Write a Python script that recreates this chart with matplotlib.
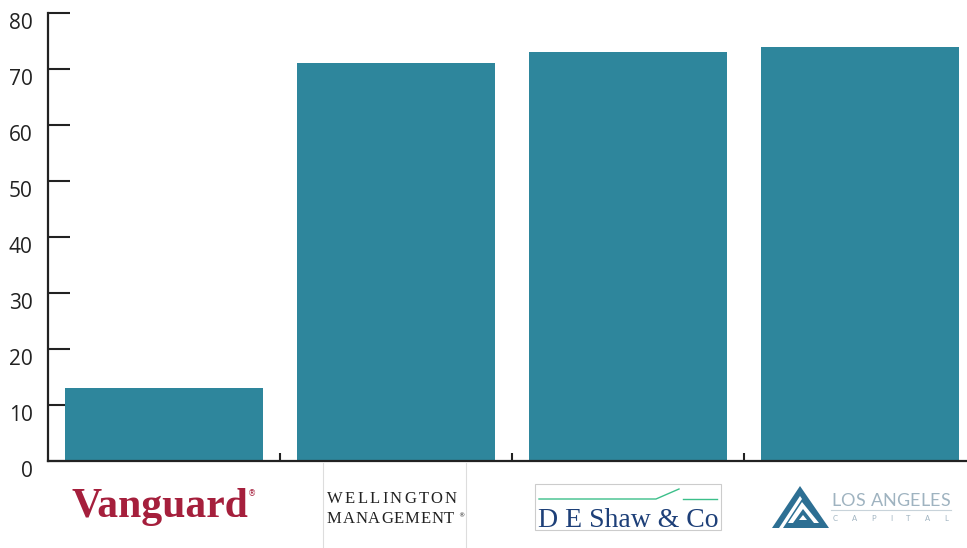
import matplotlib
matplotlib.use("Agg")
import matplotlib.pyplot as plt
import matplotlib.transforms as mtransforms
from matplotlib.patches import Polygon, Rectangle
from matplotlib.lines import Line2D

# chart data
firms = ["Vanguard", "Wellington Management", "D E Shaw & Co", "Los Angeles Capital"]
scores = [13, 71, 73, 74]
yticks = [0, 10, 20, 30, 40, 50, 60, 70, 80]

W, H = 967, 548
BAR = "#2e869c"
AXIS = "#222222"

fig = plt.figure(figsize=(W / 100, H / 100), dpi=100)
ax = fig.add_axes([48 / W, (H - 461) / H, (W - 48) / W, (461 - 13) / H])

x = list(range(len(firms)))
ax.bar(x, scores, width=0.853, color=BAR, zorder=2)

ax.set_xlim(-0.5, 3.463)
ax.set_ylim(0, 80)
ax.set_yticks(yticks)
ax.set_yticklabels([str(t) for t in yticks], fontsize=15, family="Open Sans", color="#222222")
ax.set_xticks([0.5, 1.5, 2.5])
ax.set_xticklabels([])
ax.tick_params(axis="y", direction="in", length=16, width=1.5, color=AXIS, pad=11)
ax.tick_params(axis="x", direction="in", length=6, width=1.5, color=AXIS)
for s in ["top", "right"]:
    ax.spines[s].set_visible(False)
for s in ["left", "bottom"]:
    ax.spines[s].set_linewidth(1.6)
    ax.spines[s].set_color(AXIS)

# shift tick labels down a little, like the original
shift = mtransforms.ScaledTranslation(0, -6 / 72, fig.dpi_scale_trans)
for lab in ax.get_yticklabels():
    lab.set_transform(lab.get_transform() + shift)

renderer = fig.canvas.get_renderer()


def px(x, y):
    return (x / W, 1 - y / H)


def fit(x0, x1, y, s, **kw):
    # letter-spaced text: letters spread so the word spans x0..x1
    arts, widths = [], []
    for ch in s:
        if ch == " ":
            arts.append(None)
            widths.append(kw.get("fontsize", 10) * 100 / 72 * 0.3)
            continue
        t = fig.text(0, 0, ch, ha="left", va="baseline", **kw)
        arts.append(t)
        widths.append(t.get_window_extent(renderer).width)
    gap = (x1 - x0 - sum(widths)) / (len(s) - 1)
    xx = x0
    for t, w in zip(arts, widths):
        if t is not None:
            t.set_position(px(xx, y))
        xx += w + gap


# Vanguard logo
fig.text(*px(160, 517), "Vanguard", ha="center", va="baseline", fontsize=30,
         family="Liberation Serif", weight="bold", color="#a51f3c")
fig.text(*px(252, 496), "®", ha="center", va="baseline", fontsize=6, color="#a51f3c")

# Wellington logo
for xx in [323, 466]:
    fig.add_artist(Line2D([xx / W, xx / W], [0, 1 - 463 / H], color="#dddddd", lw=0.8))
fit(327, 457, 503, "WELLINGTON", fontsize=12, family="Liberation Serif", color="#222222")
fit(327, 454, 523, "MANAGEMENT", fontsize=12, family="Liberation Serif", color="#222222")
fig.text(*px(461, 517), "®", ha="center", va="baseline", fontsize=4.5, color="#222222")

# D E Shaw logo
fig.add_artist(Rectangle(px(535, 530), 186 / W, 46 / H, fill=False, ec="#cccccc", lw=0.8))
fig.add_artist(Line2D([539 / W, 656 / W, 679 / W], [1 - 499 / H, 1 - 499 / H, 1 - 489 / H],
                      color="#3cbf8a", lw=1.0))
fig.add_artist(Line2D([683 / W, 717 / W], [1 - 499 / H, 1 - 499 / H], color="#3cbf8a", lw=1.0))
fig.text(*px(628, 527), "D E Shaw & Co", ha="center", va="baseline", fontsize=20,
         family="Liberation Serif", color="#1d3f78")

# Los Angeles Capital logo
blue = "#2d6f93"
fig.add_artist(Polygon([px(772, 528), px(800, 486), px(829, 528)], closed=True, fc=blue, ec="none"))
fig.add_artist(Polygon([px(779, 528), px(800, 496), px(802, 499), px(783, 528)], closed=True,
                       fc="white", ec="none"))
fig.add_artist(Polygon([px(788, 523), px(802, 502), px(819, 523)], closed=True, fc="white", ec="none"))
fig.add_artist(Polygon([px(793, 523), px(803, 509), px(814, 523)], closed=True, fc=blue, ec="none"))
fig.add_artist(Polygon([px(799, 520), px(803, 515), px(807, 520)], closed=True, fc="white", ec="none"))
fit(831, 950, 506, "LOS ANGELES", fontsize=13, family="Lato", color="#9fb3c0")
fig.add_artist(Line2D([831 / W, 951 / W], [1 - 510 / H, 1 - 510 / H], color="#c8d3da", lw=0.8))
fit(833, 948, 521, "CAPITAL", fontsize=5.5, family="Lato", color="#9fb3c0")

fig.savefig("out.png", dpi=100)
